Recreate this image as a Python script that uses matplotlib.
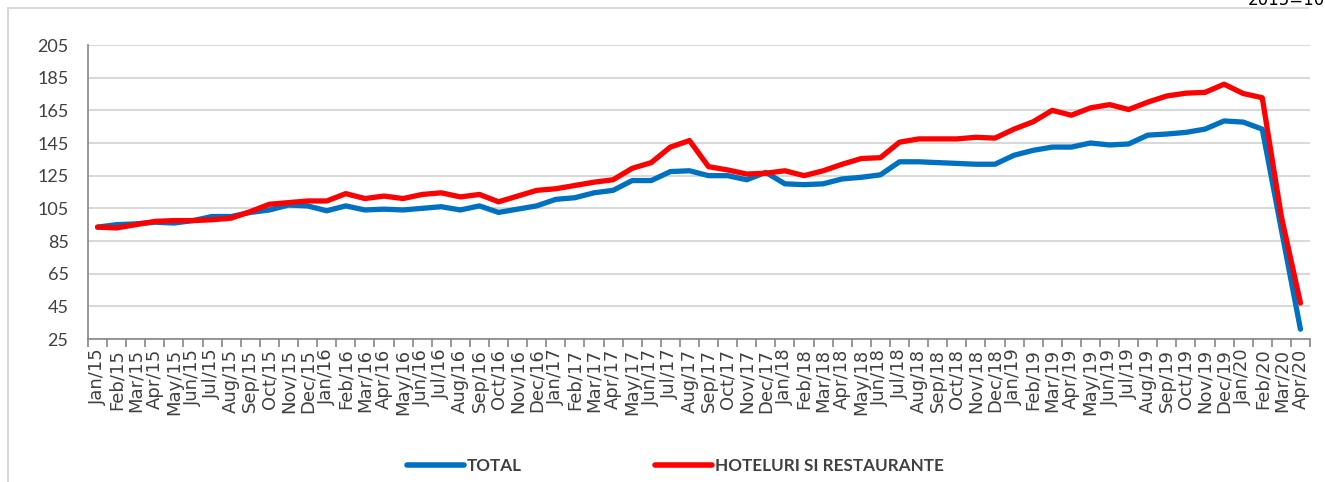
import matplotlib
matplotlib.use("Agg")
import matplotlib.pyplot as plt
from matplotlib.lines import Line2D
import numpy as np

# --- data (index 2015=100) --------------------------------------------------
months = ["Jan", "Feb", "Mar", "Apr", "May", "Jun", "Jul", "Aug", "Sep", "Oct", "Nov", "Dec"]
labels = [f"{m}/{y}" for y in ("15", "16", "17", "18", "19") for m in months] + \
         ["Jan/20", "Feb/20", "Mar/20", "Apr/20"]

total = [93.5, 95, 95.5, 96.5, 96, 97.5, 100, 100, 102.5, 104, 107, 106.5,
         103.5, 106.5, 104, 104.5, 104, 105, 106, 104, 106.5, 102.5, 104.5, 106.5,
         110.5, 111.5, 114.5, 116, 122, 122, 127.5, 128, 125, 125, 122.5, 127,
         120, 119.5, 120, 123, 124, 125.5, 133.5, 133.5, 133, 132.5, 132, 132,
         137.5, 140.5, 142.5, 142.5, 145, 143.8, 144.4, 149.8, 150.5, 151.5, 153.5, 158.5,
         157.8, 153.5, 92, 31]

hoteluri = [93.5, 93, 95, 97, 97.5, 97.5, 98, 99, 103, 107.5, 108.5, 109.5,
            109.5, 114, 111, 112.5, 111, 113.5, 114.5, 112, 113.5, 109, 112.5, 116,
            117, 119, 121, 122.5, 129.5, 133, 142.5, 146.5, 130.5, 128.5, 126, 126.5,
            128, 125, 128, 132, 135.5, 136, 145.5, 147.5, 147.5, 147.5, 148.5, 148,
            153.5, 158, 165, 162, 166.5, 168.5, 165.5, 170, 173.8, 175.5, 176, 181,
            175.3, 172.7, 100, 47]

BLUE = "#0070C0"
RED = "#FF0000"
GRID = "#D9D9D9"
TXT = "#404040"

fig = plt.figure(figsize=(13.25, 4.82), dpi=100)
ax = fig.add_axes([88 / 1325, 1 - 339 / 482, (1310 - 88) / 1325, 294 / 482])

x = np.arange(len(labels))
ax.plot(x, total, color=BLUE, lw=3.8, solid_capstyle="round", solid_joinstyle="round", zorder=3)
ax.plot(x, hoteluri, color=RED, lw=3.8, solid_capstyle="round", solid_joinstyle="round", zorder=4)

ax.set_xlim(-0.5, len(labels) - 0.5)
ax.set_ylim(25, 205)
ax.set_yticks(np.arange(25, 206, 20))
ax.yaxis.grid(True, color=GRID, lw=1.5)
ax.set_axisbelow(True)
ax.tick_params(axis="y", length=0, pad=14, labelsize=13, labelcolor=TXT)
for t in ax.get_yticklabels():
    t.set_fontfamily("Lato")

# category boundaries get tick marks, labels sit at the centres
ax.set_xticks(np.arange(len(labels) + 1) - 0.5)
ax.set_xticklabels([])
ax.set_xticks(x, minor=True)
ax.set_xticklabels(labels, minor=True, rotation=90, fontsize=13, color=TXT, family="DejaVu Sans")
ax.tick_params(axis="x", which="major", length=6, color="#868686", width=1.2)
ax.tick_params(axis="x", which="minor", length=0, pad=7)

for s in ("top", "right"):
    ax.spines[s].set_visible(False)
for s in ("left", "bottom"):
    ax.spines[s].set_color("#868686")
    ax.spines[s].set_linewidth(1.2)

handles = [Line2D([], [], color=BLUE, lw=4, solid_capstyle="round"),
           Line2D([], [], color=RED, lw=4, solid_capstyle="round")]
leg = fig.legend(handles, ["TOTAL", "HOTELURI SI RESTAURANTE"], ncol=2, frameon=False,
                 loc="center", bbox_to_anchor=(0.510, 1 - 466 / 482),
                 handlelength=3.3, handletextpad=0.2, columnspacing=7.8,
                 prop={"family": "Lato", "weight": "bold", "size": 12.3})
for t in leg.get_texts():
    t.set_color(TXT)

# light outer chart border (left + top), as in the Excel export
fig.add_artist(Line2D([8 / 1325, 8 / 1325], [0, 1 - 8 / 482], color=GRID, lw=1.5))
fig.add_artist(Line2D([8 / 1325, 1308 / 1325], [1 - 8 / 482, 1 - 8 / 482], color=GRID, lw=1.5))
fig.text(1248 / 1325, 1 - 5 / 482, "2015=100", fontsize=12, va="baseline", ha="left",
         color="black", family="DejaVu Sans")

fig.savefig("out.png", dpi=100)
